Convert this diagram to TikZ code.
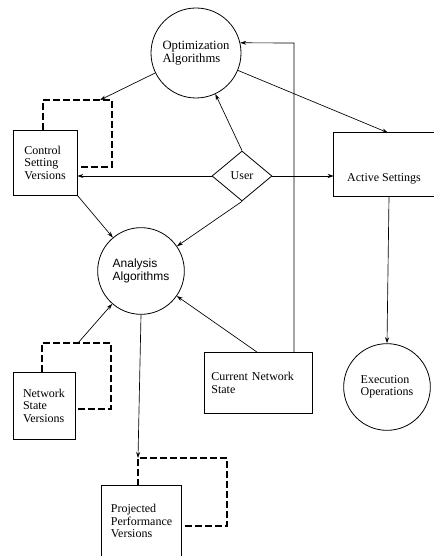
\documentclass[tikz,border=0pt]{standalone}
\usepackage{fontspec}
\setmainfont{Liberation Serif}
\newfontfamily\diagsans{Liberation Sans}
\usetikzlibrary{arrows.meta,shapes.geometric}
\tikzset{
  flow/.style={draw, line width=0.5pt, -{Stealth[length=4.5pt,width=3pt]}},
  loopline/.style={draw, line width=0.9pt, dash pattern=on 5pt off 2.5pt},
  txt/.style={font=\fontsize{9}{9.4}\selectfont},
  circnode/.style={draw, circle, line width=0.6pt, inner sep=0pt, align=left, txt},
  boxnode/.style={draw, rectangle, line width=0.6pt, inner sep=0pt, align=left, txt},
  openbox/.style={draw=none, rectangle, inner sep=0pt, align=left, txt},
  usernode/.style={draw, diamond, line width=0.6pt, inner sep=0pt, txt}
}
\begin{document}
\begin{tikzpicture}[x=0.75pt,y=-0.75pt]
\useasboundingbox (0,0) rectangle (434,556);

% circles
\node[circnode, minimum size=67.5pt, font=\fontsize{9.5}{10}\selectfont] (opt) at (196,53) {Optimization\\Algorithms};
\node[circnode, minimum size=65pt, font=\diagsans\fontsize{9}{9.6}\selectfont] (ana) at (141,271) {Analysis\\Algorithms};
\node[circnode, minimum size=65pt] (exe) at (387,387) {Execution\\Operations};

% diamond
\node[usernode, minimum width=45pt, minimum height=37.5pt] (user) at (242,176) {User};

% boxes
\node[boxnode, minimum width=48pt, minimum height=48.75pt] (ctl) at (45,162.5) {Control\\Setting\\Versions};
\node[boxnode, minimum width=46.5pt, minimum height=50.25pt] (nsv) at (44,405.5) {Network\\State\\Versions};
\node[boxnode, minimum width=81pt, minimum height=45.75pt, text width=70pt] (cns) at (258,383) {Current Network\\State};

% open boxes
\node[openbox, minimum width=75pt, minimum height=47.25pt] (act) at (384,164.5) {\raisebox{-12.5pt}[0pt][0pt]{Active Settings}};
\draw[line width=0.6pt] (act.north east) -- (act.north west) -- (act.south west) -- (act.south east);
\node[openbox, minimum width=59.25pt, minimum height=52.5pt] (prj) at (141.5,521) {Projected\\Performance\\Versions};
\draw[line width=0.6pt] (prj.south west) -- (prj.north west) -- (prj.north east) -- (prj.south east);

% dashed loops
\coordinate (cl1) at (43,100);
\coordinate (cl2) at (112,100);
\coordinate (cl3) at (112,167);
\draw[loopline] (ctl.north west -| cl1) -- (cl1) -- (cl2) -- (cl3) -- (cl3 -| ctl.east);

\coordinate (nl1) at (42,343);
\coordinate (nl2) at (111,343);
\coordinate (nl3) at (111,409);
\draw[loopline] (nsv.north west -| nl1) -- (nl1) -- (nl2) -- (nl3) -- (nl3 -| nsv.east);

\coordinate (pl1) at (138,458);
\coordinate (pl2) at (227,458);
\coordinate (pl3) at (227,526);
\draw[loopline] (prj.north west -| pl1) -- (pl1) -- (pl2) -- (pl3) -- (pl3 -| prj.east);

% arrows
\coordinate (ctltop) at (100,100);
\draw[flow] (opt) -- (ctltop);
\draw[flow] (opt) -- (act.north -| 388,0);
\draw[flow] (user.north) -- (opt);
\draw[flow] (user.west) -- (user.west -| ctl.east);
\draw[flow] (user.east) -- (user.east -| act.west);
\draw[flow] (user.south) -- (ana);
\draw[flow] (ctl.south east) -- (ana);
\coordinate (nsvtop) at (78,343);
\draw[flow] (nsvtop) -- (ana);
\draw[flow] (cns.north -| 257,0) -- (ana);
\draw[flow] (ana.south) -- (pl1);
\draw[flow] (act.south -| 389,0) -- (exe.north);
\coordinate (cnsup) at (294,43);
\draw[flow] (cns.north -| cnsup) -- (cnsup) -- (opt.13);
\end{tikzpicture}
\end{document}
